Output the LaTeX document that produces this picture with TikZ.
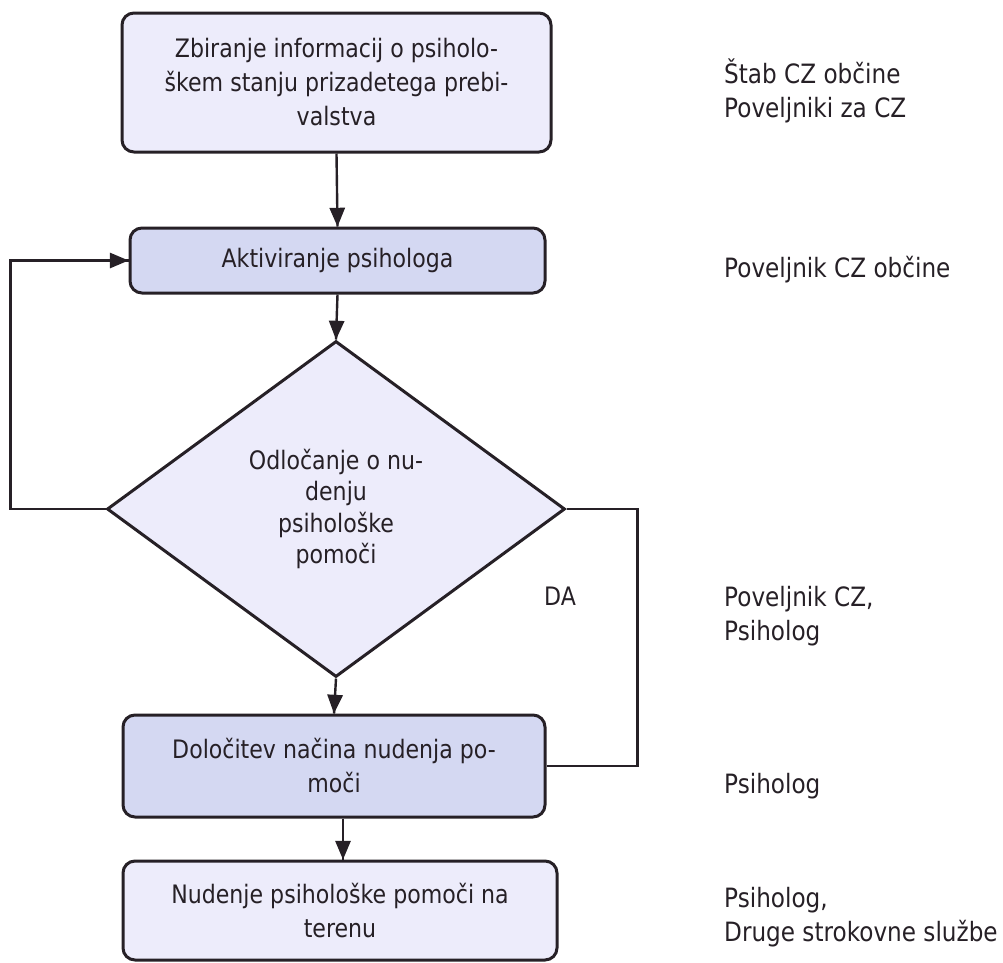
\documentclass[tikz,border=0pt]{standalone}
\usepackage{fontspec}
\setmainfont{DejaVu Sans}[FakeStretch=0.87]
\usepackage{tikz}
\usetikzlibrary{arrows,decorations.markings}
\usetikzlibrary{shapes, positioning}
\definecolor{svetla}{RGB}{237,236,251}
\definecolor{temna}{RGB}{212,216,242}
\definecolor{crta}{RGB}{38,32,38}
\tikzset{strelica/.style={draw=crta, line width=2.4pt, decoration={markings,mark=at position 1 with %
    {\arrow[scale=1.3,>=triangle 45]{>}}},postaction={decorate}}}
\tikzset{crtica/.style={draw=crta, line width=2.4pt}}
\tikzset{blok/.style={draw=crta, line width=3pt, rounded corners=12pt, align=center,
    text=crta, inner sep=0pt, font=\fontsize{25.4}{34}\selectfont}}
\tikzset{romb/.style={draw=crta, line width=3pt, diamond, align=center, text=crta,
    inner sep=0pt, font=\fontsize{25.4}{31.5}\selectfont}}
\tikzset{oznaka/.style={anchor=west, align=left, text=crta, inner sep=0pt,
    font=\fontsize{26.6}{34}\selectfont}}

\begin{document}
\begin{tikzpicture}[x=1pt, y=-1pt]
    %okvir
    \useasboundingbox (0, 0) rectangle (1003, 962);

    %bloki
    \node[blok, fill=svetla, minimum width=429pt, minimum height=139pt] (zbiranje)
        at (336.5, 82.5) {Zbiranje informacij o psiholo-\\škem stanju prizadetega prebi-\\valstva};
    \node[blok, fill=temna, minimum width=415pt, minimum height=65pt] (aktiviranje)
        at (337.5, 260.5) {Aktiviranje psihologa};
    \node[romb, fill=svetla, minimum width=458pt, minimum height=336pt] (odlocanje)
        at (336, 509) {Odločanje o nu-\\denju\\psihološke\\pomoči};
    \node[blok, fill=temna, minimum width=422pt, minimum height=102pt] (dolocitev)
        at (334, 766) {Določitev načina nudenja po-\\moči};
    \node[blok, fill=svetla, minimum width=434pt, minimum height=99pt] (nudenje)
        at (340, 910.5) {Nudenje psihološke pomoči na\\terenu};

    %puscice
    \draw[strelica] (zbiranje.south) -- (aktiviranje.north);
    \draw[strelica] (aktiviranje.south) -- (odlocanje.north);
    \draw[strelica] (odlocanje.south) -- (dolocitev.north);
    \draw[strelica] ([xshift=9pt]dolocitev.south) -- ([xshift=9pt]dolocitev.south |- nudenje.north);

    %povratna zanka
    \draw[strelica] (odlocanje.west) -- ++(-95, 0) |- (aktiviranje.west);

    %DA
    \draw[crtica] (odlocanje.east) -- ++(71, 0) |- (dolocitev.east);
    \node[text=crta, font=\fontsize{25.4}{31}\selectfont] (da) at (560, 596) {DA};

    %odgovorni
    \node[oznaka] (stab) at (724, 91) {Štab CZ občine\\Poveljniki za CZ};
    \node[oznaka] (poveljnik) at (724, 270) {Poveljnik CZ občine};
    \node[oznaka] (poveljnikpsi) at (724, 616) {Poveljnik CZ,\\Psiholog};
    \node[oznaka] (psiholog) at (724, 786) {Psiholog};
    \node[oznaka] (druge) at (724, 917) {Psiholog,\\Druge strokovne službe};
\end{tikzpicture}
\end{document}
